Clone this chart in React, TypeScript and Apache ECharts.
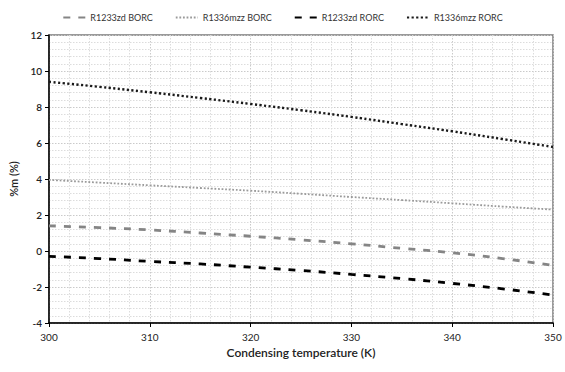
import React, { useEffect, useRef } from "react";
import * as echarts from "echarts";

// Condensing temperature (K)
const temperatures = [300, 305, 310, 315, 320, 325, 330, 335, 340, 345, 350];

// %m (%) for each cycle / working fluid
const r1233zdBorc = [1.4, 1.3, 1.17, 1.0, 0.82, 0.62, 0.4, 0.15, -0.1, -0.42, -0.8];
const r1336mzzBorc = [3.95, 3.8, 3.65, 3.5, 3.35, 3.18, 3.0, 2.83, 2.65, 2.47, 2.3];
const r1233zdRorc = [-0.3, -0.42, -0.58, -0.72, -0.9, -1.08, -1.3, -1.53, -1.8, -2.1, -2.45];
const r1336mzzRorc = [9.4, 9.12, 8.82, 8.5, 8.17, 7.82, 7.45, 7.05, 6.65, 6.22, 5.78];

const seriesNames = ["R1233zd BORC", "R1336mzz BORC", "R1233zd RORC", "R1336mzz RORC"];

const pairs = (ys: number[]) => temperatures.map((t, i) => [t, ys[i]]);

const FONT = "Lato, 'Open Sans', sans-serif";

export default function App() {
  const ref = useRef<HTMLDivElement>(null);

  useEffect(() => {
    if (!ref.current) return;
    const chart = echarts.init(ref.current, undefined, { renderer: "svg" });

    const lineSeries = (
      name: string,
      data: number[],
      color: string,
      width: number,
      dash: number[]
    ) => ({
      name,
      type: "line",
      data: pairs(data),
      showSymbol: false,
      symbol: "none",
      smooth: true,
      itemStyle: { color },
      lineStyle: { color, width, type: dash },
    });

    const gridLine = { color: "#cacaca", type: [1.5, 1.5], width: 1 };
    const minorGridLine = { color: "#dcdcdc", type: [1.5, 1.5], width: 1 };

    chart.setOption({
      animation: false,
      backgroundColor: "#ffffff",
      legend: {
        top: 8,
        left: "center",
        itemWidth: 22,
        itemHeight: 8,
        itemGap: 22,
        itemStyle: { opacity: 0 },
        textStyle: { fontFamily: FONT, fontSize: 9, color: "#333" },
        data: seriesNames,
      },
      grid: {
        left: 49,
        right: 12,
        top: 35,
        bottom: 49,
        show: true,
        borderColor: "#7a7a7a",
        borderWidth: 1.5,
      },
      xAxis: {
        type: "value",
        min: 300,
        max: 350,
        interval: 10,
        name: "Condensing temperature (K)",
        nameLocation: "middle",
        nameGap: 23,
        nameTextStyle: { fontFamily: FONT, fontSize: 12, color: "#222", fontWeight: 600 },
        axisLine: { show: true, onZero: false, lineStyle: { color: "#000", width: 1.5 } },
        axisTick: { show: true, inside: false, length: 4, lineStyle: { color: "#000" } },
        axisLabel: { fontFamily: FONT, fontSize: 10, color: "#222", margin: 9 },
        splitLine: { show: true, lineStyle: gridLine },
        minorSplitLine: { show: true, lineStyle: minorGridLine },
        minorTick: { show: false, splitNumber: 5 },
      },
      yAxis: {
        type: "value",
        min: -4,
        max: 12,
        interval: 2,
        name: "%m (%)",
        nameLocation: "middle",
        nameGap: 21,
        nameTextStyle: { fontFamily: FONT, fontSize: 11, color: "#222", fontWeight: 600 },
        axisLine: { show: true, onZero: false, lineStyle: { color: "#000", width: 1.5 } },
        axisTick: { show: true, inside: false, length: 4, lineStyle: { color: "#000" } },
        axisLabel: { fontFamily: FONT, fontSize: 10, color: "#222", fontWeight: 600, margin: 7 },
        splitLine: { show: true, lineStyle: gridLine },
        minorSplitLine: { show: true, lineStyle: minorGridLine },
        minorTick: { show: false, splitNumber: 5 },
      },
      series: [
        lineSeries(seriesNames[0], r1233zdBorc, "#858585", 2.8, [7, 8]),
        lineSeries(seriesNames[1], r1336mzzBorc, "#9a9a9a", 1.8, [1.8, 1.8]),
        lineSeries(seriesNames[2], r1233zdRorc, "#000000", 2.8, [7, 8]),
        lineSeries(seriesNames[3], r1336mzzRorc, "#1a1a1a", 2.4, [2.2, 2.4]),
      ],
    });

    return () => chart.dispose();
  }, []);

  return (
    <div
      ref={ref}
      style={{ position: "fixed", left: 0, top: 0, width: 565, height: 372 }}
    />
  );
}
